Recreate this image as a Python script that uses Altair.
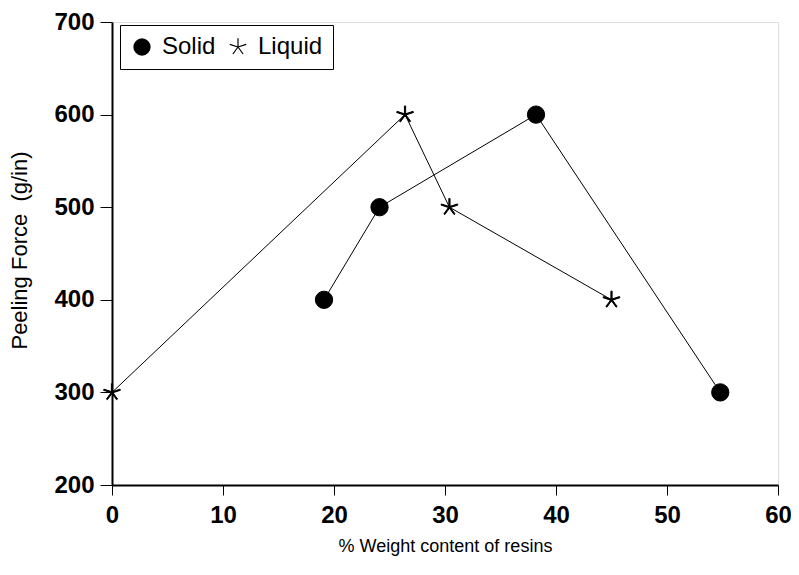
import math
import altair as alt
import pandas as pd

# Data
solid_x = [19.1, 24.1, 38.2, 54.8]
solid_y = [400, 500, 600, 300]
liquid_x = [0.0, 26.4, 30.4, 45.0]
liquid_y = [300, 600, 500, 400]
series_names = ["Solid", "Liquid"]
x_ticks = [0, 10, 20, 30, 40, 50, 60]
y_ticks = [200, 300, 400, 500, 600, 700]

rows = []
for x, y in zip(solid_x, solid_y):
    rows.append({"series": series_names[0], "x": x, "y": y})
for x, y in zip(liquid_x, liquid_y):
    rows.append({"series": series_names[1], "x": x, "y": y})
df = pd.DataFrame(rows)


def asterisk_path(arms=5, half_width=0.07):
    parts = []
    for k in range(arms):
        a = math.radians(-90 + k * 360 / arms)
        dx, dy = math.cos(a), math.sin(a)
        px, py = -dy * half_width, dx * half_width
        pts = [(px, py), (dx + px, dy + py), (dx - px, dy - py), (-px, -py)]
        parts.append("M" + "L".join(f"{x:.3f},{y:.3f}" for x, y in pts) + "Z")
    return "".join(parts)


STAR = asterisk_path()
FONT = "Liberation Sans"

x_enc = alt.X(
    "x:Q",
    scale=alt.Scale(domain=[0, 60], nice=False, zero=False),
    axis=alt.Axis(
        values=x_ticks, title="% Weight content of resins",
        titleFont=FONT, titleFontSize=18, titleFontWeight="normal",
        titleColor="black", titleY=66, titleBaseline="alphabetic",
        labelFont=FONT, labelFontSize=24, labelFontWeight="bold",
        labelColor="black", labelPadding=8, labelFlush=False,
        tickSize=10, tickColor="black", tickWidth=1,
        domainColor="black", domainWidth=2, grid=False,
    ),
)
y_enc = alt.Y(
    "y:Q",
    scale=alt.Scale(domain=[200, 700], nice=False, zero=False),
    axis=alt.Axis(
        values=y_ticks, title="Peeling Force \u00a0(g/in)",
        titleFont=FONT, titleFontSize=22, titleFontWeight="normal",
        titleColor="black", titleX=-86, titleY=228, titleAngle=270,
        titleBaseline="alphabetic", titleAlign="center",
        labelFont=FONT, labelFontSize=24, labelFontWeight="bold",
        labelColor="black", labelPadding=6, labelFlush=False,
        tickSize=12, tickColor="black", tickWidth=1,
        domainColor="black", domainWidth=2, grid=False,
    ),
)

lines = alt.Chart(df).mark_line(color="black", strokeWidth=1).encode(
    x=x_enc, y=y_enc, detail="series:N", order="x:Q"
)

points = alt.Chart(df).mark_point(
    filled=True, fill="black", stroke="black", strokeWidth=1,
    opacity=1, size=300, clip=False
).encode(
    x=x_enc, y=y_enc,
    shape=alt.Shape(
        "series:N",
        scale=alt.Scale(domain=series_names, range=["circle", STAR]),
        legend=alt.Legend(
            title=None, orient="none", legendX=8, legendY=3,
            direction="horizontal", strokeColor="black",
            fillColor="white", padding=10, labelFont=FONT,
            labelFontSize=24, labelColor="black", labelOffset=8,
            columnPadding=10, symbolSize=300, symbolFillColor="black",
            symbolStrokeColor="black", symbolStrokeWidth=1,
            symbolOpacity=1,
        ),
    ),
)

chart = alt.layer(lines, points).properties(
    width=666, height=463,
    autosize=alt.AutoSizeParams(type="none"),
    padding={"left": 104, "top": 14, "right": 13, "bottom": 78},
).configure_view(stroke="black", strokeWidth=2).configure_legend(
    strokeWidth=2
).configure(background="white")

chart.save("out.html", embed_options={"renderer": "svg", "actions": False})
